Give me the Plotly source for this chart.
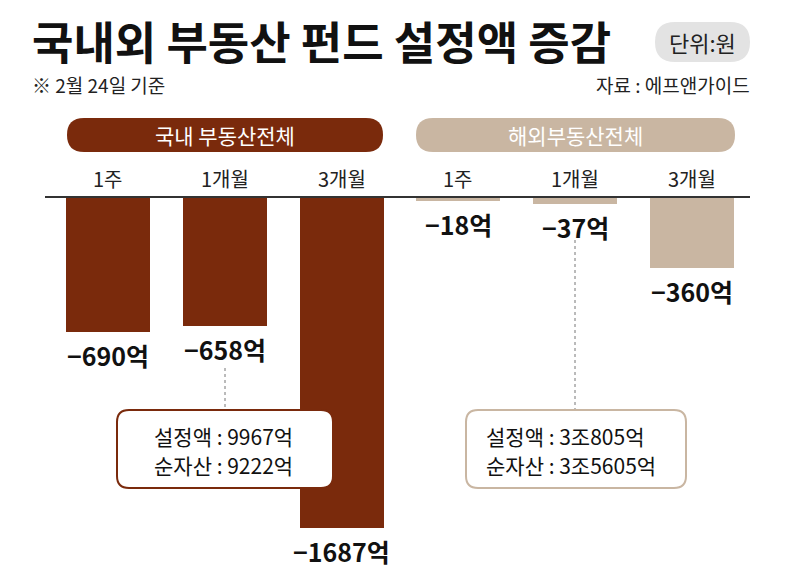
import plotly.graph_objects as go

categories = ["1주", "1개월", "3개월", "1주", "1개월", "3개월"]
domestic_vals = [-690, -658, -1687]
overseas_vals = [-18, -37, -360]
group_names = ["국내 부동산전체", "해외부동산전체"]
box_lines = [["설정액 : 9967억", "순자산 : 9222억"], ["설정액 : 3조805억", "순자산 : 3조5605억"]]

DARK = "#7a2a0c"
TAN = "#c9b6a2"
FONT = "Noto Sans CJK KR"

W, H = 800, 570
base_px = 197
ppu = 331 / 1687
y_top = base_px / ppu
y_bot = -(H - base_px) / ppu
spacing = 116.8
x0c = 108
x_lo = -x0c / spacing
x_hi = (W - x0c) / spacing

fig = go.Figure()
xs_d = [0, 1, 2]
xs_o = [3, 4, 5]
fig.add_trace(go.Bar(x=xs_d, y=domestic_vals, marker=dict(color=DARK, line=dict(width=0)),
                     width=0.72, hoverinfo="skip"))
fig.add_trace(go.Bar(x=xs_o, y=overseas_vals, marker=dict(color=TAN, line=dict(width=0)),
                     width=0.72, hoverinfo="skip"))

annotations = []
shapes = []

def fmt(v):
    return "−" + str(abs(v)) + "억"

def py(p):
    return 1 - p / H

for xv, v in zip(xs_d + xs_o, domestic_vals + overseas_vals):
    annotations.append(dict(x=xv, y=v, xref="x", yref="y", text="<b>" + fmt(v) + "</b>",
                            showarrow=False, yshift=-23, font=dict(family=FONT, size=25, color="#111"),
                            xanchor="center", yanchor="middle"))

for xv, c in zip(xs_d + xs_o, categories):
    annotations.append(dict(x=xv, y=py(178), xref="x", yref="paper", text=c, showarrow=False,
                            font=dict(family=FONT, size=20, color="#222"), xanchor="center", yanchor="middle"))

def rounded(x0, y0, x1, y1, r):
    def P(x, y):
        return f"{x / W:.5f},{py(y):.5f}"
    return (f"M {P(x0 + r, y0)} L {P(x1 - r, y0)} Q {P(x1, y0)} {P(x1, y0 + r)} "
            f"L {P(x1, y1 - r)} Q {P(x1, y1)} {P(x1 - r, y1)} L {P(x0 + r, y1)} "
            f"Q {P(x0, y1)} {P(x0, y1 - r)} L {P(x0, y0 + r)} Q {P(x0, y0)} {P(x0 + r, y0)} Z")

# group pills
for (x0, x1), col, name in zip([(67, 383), (416, 735)], [DARK, TAN], group_names):
    shapes.append(dict(type="path", xref="paper", yref="paper", path=rounded(x0, 118, x1, 152, 17),
                       fillcolor=col, line=dict(width=0), layer="above"))
    annotations.append(dict(x=(x0 + x1) / 2 / W, y=py(135), xref="paper", yref="paper", text=name,
                            showarrow=False, font=dict(family=FONT, size=21, color="white"),
                            xanchor="center", yanchor="middle"))

# baseline
shapes.append(dict(type="line", xref="paper", yref="y", x0=45 / W, x1=750 / W, y0=0, y1=0,
                   line=dict(color="#333", width=2), layer="above"))

# dotted leaders
shapes.append(dict(type="line", xref="paper", yref="paper", x0=225 / W, x1=225 / W, y0=py(368), y1=py(410),
                   line=dict(color="#777", width=1, dash="dot"), layer="above"))
shapes.append(dict(type="line", xref="paper", yref="paper", x0=575 / W, x1=575 / W, y0=py(240), y1=py(410),
                   line=dict(color="#777", width=1, dash="dot"), layer="above"))

# info boxes
for (x0, x1), tx, col, lines in zip([(117, 333), (466, 686)], [152, 484], [DARK, TAN], box_lines):
    shapes.append(dict(type="path", xref="paper", yref="paper", path=rounded(x0, 410, x1, 488, 12),
                       fillcolor="white", line=dict(color=col, width=2), layer="above"))
    for ln, yy in zip(lines, [436, 465]):
        annotations.append(dict(x=tx / W, y=py(yy), xref="paper", yref="paper", text=ln,
                                showarrow=False, font=dict(family=FONT, size=21, color="#111"),
                                xanchor="left", yanchor="middle"))

# title block
annotations.append(dict(x=30 / W, y=py(40), xref="paper", yref="paper", text="<b>국내외 부동산 펀드 설정액 증감</b>",
                        showarrow=False, font=dict(family=FONT, size=45, color="#111"),
                        xanchor="left", yanchor="middle"))
shapes.append(dict(type="path", xref="paper", yref="paper", path=rounded(655, 22, 750, 62, 20),
                   fillcolor="#e3e3e3", line=dict(width=0), layer="above"))
annotations.append(dict(x=702 / W, y=py(42), xref="paper", yref="paper", text="단위:원",
                        showarrow=False, font=dict(family=FONT, size=22, color="#222"),
                        xanchor="center", yanchor="middle"))
annotations.append(dict(x=30 / W, y=py(84), xref="paper", yref="paper", text="※ 2월 24일 기준",
                        showarrow=False, font=dict(family=FONT, size=19, color="#222"),
                        xanchor="left", yanchor="middle"))
annotations.append(dict(x=752 / W, y=py(84), xref="paper", yref="paper", text="자료 : 에프앤가이드",
                        showarrow=False, font=dict(family=FONT, size=19, color="#222"),
                        xanchor="right", yanchor="middle"))

fig.update_layout(
    width=W, height=H, margin=dict(l=0, r=0, t=0, b=0),
    paper_bgcolor="white", plot_bgcolor="white", showlegend=False,
    xaxis=dict(range=[x_lo, x_hi], visible=False, fixedrange=True),
    yaxis=dict(range=[y_bot, y_top], visible=False, fixedrange=True),
    annotations=annotations, shapes=shapes, bargap=0,
)
fig.write_html("out.html")
